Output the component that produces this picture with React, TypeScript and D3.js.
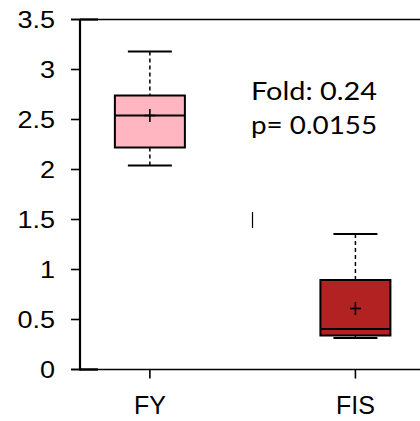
import React from "react";
import * as d3 from "d3";

const categories = ["FY", "FIS"];
const whiskerLow = [2.04, 0.315];
const q1 = [2.22, 0.34];
const median = [2.54, 0.405];
const q3 = [2.74, 0.895];
const whiskerHigh = [3.18, 1.355];
const means = [2.54, 0.61];
const fills = ["#FFB6C1", "#B22222"];
const yTicks = [0, 0.5, 1, 1.5, 2, 2.5, 3, 3.5];
const annotation = ["Fold: 0.24", "p= 0.0155"];

export default function App() {
  const W = 420, H = 421;
  const y = d3.scaleLinear().domain([0, 3.5]).range([369.5, 19.5]);
  const x = d3.scalePoint<string>().domain(categories).range([80, 425.3]).padding(0.34);
  const boxW = 70;
  const capW = 44;
  const axisX = 80;
  const sans = "'Liberation Sans', Arial, sans-serif";

  return (
    <svg width={W} height={H} style={{ position: "fixed", left: 0, top: 0, background: "#fff" }}>
      {/* frame lines */}
      <line x1={71} x2={420} y1={y(3.5)} y2={y(3.5)} stroke="#000" strokeWidth={1.6} />
      <line x1={71} x2={420} y1={y(0)} y2={y(0)} stroke="#000" strokeWidth={1.6} />
      <line x1={axisX} x2={98} y1={y(0)} y2={y(0)} stroke="#000" strokeWidth={2.4} />
      <line x1={axisX} x2={98} y1={y(3.5)} y2={y(3.5)} stroke="#000" strokeWidth={2.2} />
      <line x1={axisX} x2={axisX} y1={y(3.5)} y2={y(0) + 1} stroke="#000" strokeWidth={2.2} />
      {/* small artifact mark */}
      <line x1={252.5} x2={252.5} y1={212} y2={228} stroke="#000" strokeWidth={1.2} />
      {/* y ticks */}
      {yTicks.map((t) => (
        <g key={t}>
          <line x1={71} x2={axisX} y1={y(t)} y2={y(t)} stroke="#000" strokeWidth={1.6} />
          <text
            transform={`translate(55,${y(t) + 8.4}) scale(1.15,1)`}
            textAnchor="end"
            fontFamily={sans}
            fontSize={23.5}
            fill="#000"
          >
            {String(t)}
          </text>
        </g>
      ))}
      {/* x ticks */}
      {categories.map((c) => (
        <g key={c}>
          <line x1={x(c)} x2={x(c)} y1={y(0)} y2={y(0) + 9} stroke="#000" strokeWidth={1.6} />
          <text x={x(c)} y={414} textAnchor="middle" fontFamily={sans} fontSize={25} fill="#000">
            {c}
          </text>
        </g>
      ))}
      {/* boxes */}
      {categories.map((c, i) => {
        const cx = x(c) as number;
        return (
          <g key={c} stroke="#000">
            <line x1={cx} x2={cx} y1={y(whiskerHigh[i])} y2={y(q3[i])} strokeWidth={1.5} strokeDasharray="4,3" />
            <line x1={cx} x2={cx} y1={y(q1[i])} y2={y(whiskerLow[i])} strokeWidth={1.5} strokeDasharray="4,3" />
            <line x1={cx - capW / 2} x2={cx + capW / 2} y1={y(whiskerHigh[i])} y2={y(whiskerHigh[i])} strokeWidth={1.8} />
            <line x1={cx - capW / 2} x2={cx + capW / 2} y1={y(whiskerLow[i])} y2={y(whiskerLow[i])} strokeWidth={1.8} />
            <rect
              x={cx - boxW / 2}
              y={y(q3[i])}
              width={boxW}
              height={y(q1[i]) - y(q3[i])}
              fill={fills[i]}
              strokeWidth={2}
            />
            <line x1={cx - boxW / 2} x2={cx + boxW / 2} y1={y(median[i])} y2={y(median[i])} strokeWidth={1.8} />
            <line x1={cx - 5.5} x2={cx + 5.5} y1={y(means[i])} y2={y(means[i])} strokeWidth={1.6} />
            <line x1={cx} x2={cx} y1={y(means[i]) - 6.5} y2={y(means[i]) + 6.5} strokeWidth={1.6} />
          </g>
        );
      })}
      {/* annotation */}
      {annotation.map((t, i) => (
        <text
          key={t}
          x={251}
          y={100 + i * 33.5}
          fontFamily="Lato, 'Open Sans', sans-serif"
          fontSize={25.5}
          textLength={126}
          lengthAdjust="spacingAndGlyphs"
          fill="#000"
        >
          {t}
        </text>
      ))}
    </svg>
  );
}
